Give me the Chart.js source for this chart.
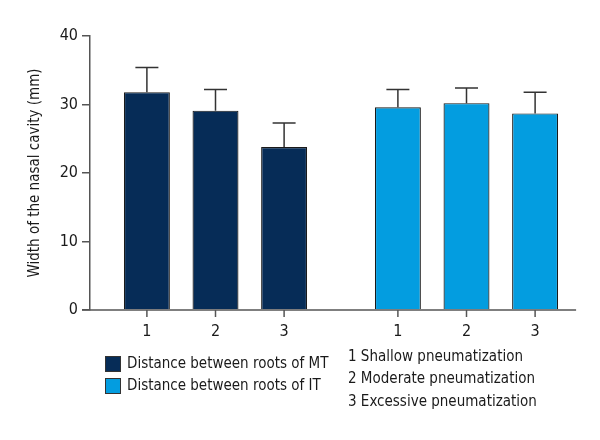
<!DOCTYPE html>
<html>
<head>
<meta charset="utf-8">
<script src="https://cdn.jsdelivr.net/npm/chart.js@4.4.1/dist/chart.umd.min.js"></script>
<style>
  html, body { margin: 0; padding: 0; background: #fff; }
  #wrap { width: 600px; height: 440px; }
</style>
</head>
<body>
<div id="wrap"><canvas id="chart" width="600" height="440"></canvas></div>
<script>
// groups on the x axis (also the legend entries)
const groups = ["Distance between roots of MT", "Distance between roots of IT"];
const groupColors = ["#062c57", "#039de0"];

// pneumatization degree (one dataset each, shown as 1 / 2 / 3 under bars)
const degreeLabels = ["1 Shallow pneumatization", "2 Moderate pneumatization", "3 Excessive pneumatization"];
const degreeTicks = ["1", "2", "3"];

// mean values
const mtMeans = [31.8, 29.1, 23.8];
const itMeans = [29.6, 30.2, 28.7];
// top of the error bars
const mtUpper = [35.4, 32.2, 27.3];
const itUpper = [32.2, 32.4, 31.8];

const yTicks = [0, 10, 20, 30, 40];

const fontFamily = "'DejaVu Sans Condensed', 'Liberation Sans Narrow', sans-serif";
const axisColor = "#555";
const textColor = "#1a1a1a";

const datasets = degreeLabels.map(function (label, i) {
  return {
    label: label,
    data: [mtMeans[i], itMeans[i]],
    upper: [mtUpper[i], itUpper[i]],
    backgroundColor: groupColors,
    borderColor: "#1a1a1a",
    borderWidth: 1.2,
    categoryPercentage: 0.82,
    barPercentage: 0.67
  };
});

// error bars, x axis line, ticks 1/2/3 and legend
const extras = {
  id: "extras",
  afterDatasetsDraw: function (chart) {
    const ctx = chart.ctx;
    const y = chart.scales.y;
    const area = chart.chartArea;
    let rightMost = area.left;

    ctx.save();
    chart.data.datasets.forEach(function (ds, di) {
      const meta = chart.getDatasetMeta(di);
      meta.data.forEach(function (bar, j) {
        const top = y.getPixelForValue(ds.upper[j]);
        ctx.strokeStyle = "#333";
        ctx.lineWidth = 1.5;
        ctx.beginPath();
        ctx.moveTo(bar.x, bar.y);
        ctx.lineTo(bar.x, top);
        ctx.moveTo(bar.x - 11.5, top);
        ctx.lineTo(bar.x + 11.5, top);
        ctx.stroke();

        // tick mark and label under the bar
        ctx.strokeStyle = axisColor;
        ctx.beginPath();
        ctx.moveTo(bar.x, area.bottom);
        ctx.lineTo(bar.x, area.bottom + 7);
        ctx.stroke();
        ctx.fillStyle = textColor;
        ctx.font = "16px " + fontFamily;
        ctx.textAlign = "center";
        ctx.textBaseline = "middle";
        ctx.fillText(degreeTicks[di], bar.x, area.bottom + 22);

        rightMost = Math.max(rightMost, bar.x + bar.width / 2);
      });
    });

    // x axis line
    ctx.strokeStyle = axisColor;
    ctx.lineWidth = 1.5;
    ctx.beginPath();
    ctx.moveTo(area.left - 8, area.bottom);
    ctx.lineTo(rightMost + 18, area.bottom);
    ctx.stroke();

    // legend
    ctx.font = "15px " + fontFamily;
    ctx.textAlign = "left";
    ctx.textBaseline = "middle";
    groups.forEach(function (g, i) {
      const ly = area.bottom + 54 + i * 22;
      ctx.fillStyle = groupColors[i];
      ctx.fillRect(105, ly - 8, 16, 16);
      ctx.strokeStyle = "#333";
      ctx.lineWidth = 1;
      ctx.strokeRect(105.5, ly - 7.5, 15, 15);
      ctx.fillStyle = textColor;
      ctx.fillText(g, 127, ly);
    });
    degreeLabels.forEach(function (t, i) {
      ctx.fillStyle = textColor;
      ctx.fillText(t, 348, area.bottom + 47 + i * 22.5);
    });
    ctx.restore();
  }
};

new Chart(document.getElementById("chart"), {
  type: "bar",
  data: { labels: groups, datasets: datasets },
  options: {
    responsive: false,
    animation: false,
    layout: { padding: { top: 36, right: 8, bottom: 130, left: 0 } },
    plugins: { legend: { display: false }, tooltip: { enabled: false } },
    scales: {
      x: { display: false },
      y: {
        min: 0,
        max: 40,
        afterBuildTicks: function (scale) {
          scale.ticks = yTicks.map(function (v) { return { value: v }; });
        },
        afterFit: function (scale) { scale.width = 90; },
        ticks: { color: textColor, padding: 4, font: { family: fontFamily, size: 16 } },
        grid: { drawOnChartArea: false, drawTicks: true, tickLength: 8, color: axisColor, lineWidth: 1.5 },
        border: { display: true, color: axisColor, width: 1.5 },
        title: {
          display: true,
          text: "Width of the nasal cavity (mm)",
          color: textColor,
          padding: { top: 26, bottom: 0 },
          font: { family: fontFamily, size: 15 }
        }
      }
    }
  },
  plugins: [extras]
});
</script>
</body>
</html>
